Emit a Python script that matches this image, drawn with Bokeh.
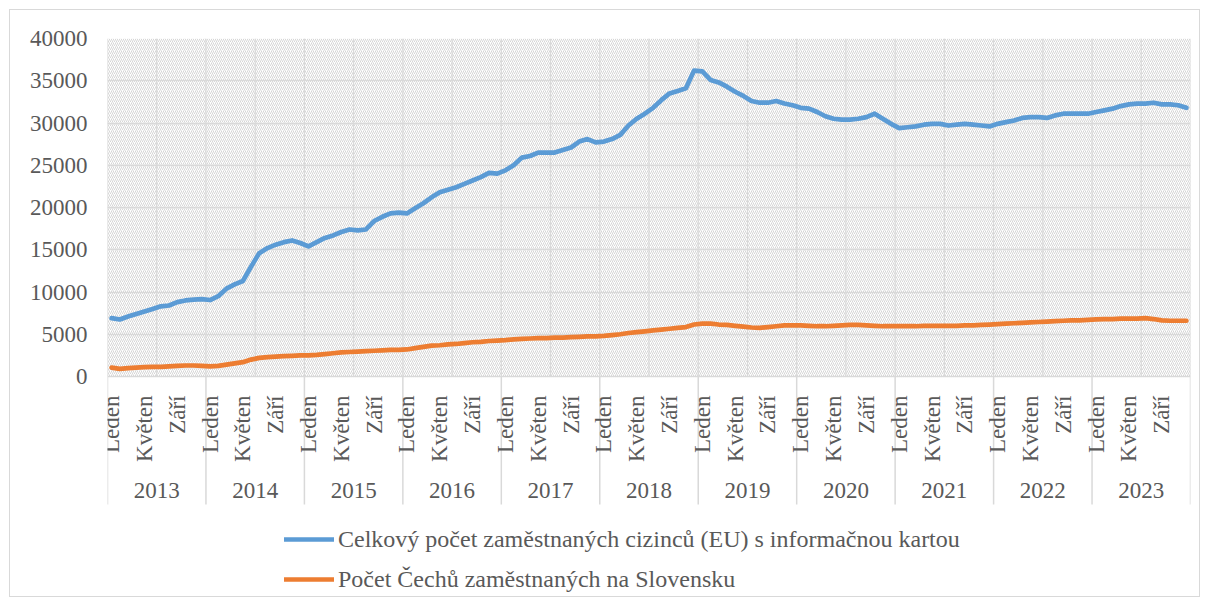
import numpy as np
from bokeh.plotting import figure
from bokeh.models import (Range1d, FixedTicker, Legend, LegendItem,
                          BoxAnnotation, NumeralTickFormatter, ColumnDataSource)
from bokeh.core.properties import value
from bokeh.embed import file_html
from bokeh.resources import INLINE

years = [str(y) for y in range(2013, 2024)]
month_names = {0: "Leden", 4: "Květen", 8: "Září"}

series_blue_name = "Celkový počet zaměstnaných cizinců (EU) s informačnou kartou"
series_orange_name = "Počet Čechů zaměstnaných na Slovensku"

blue = [
    6900, 6750, 7100, 7400, 7700, 8000, 8300, 8400, 8800, 9000, 9100, 9150,
    9050, 9500, 10400, 10900, 11300, 13000, 14600, 15200, 15600, 15900, 16100, 15800,
    15400, 15900, 16400, 16700, 17100, 17400, 17300, 17400, 18400, 18900, 19300, 19400,
    19300, 19900, 20500, 21200, 21800, 22100, 22400, 22800, 23200, 23600, 24100, 24000,
    24400, 25000, 25900, 26100, 26500, 26500, 26500, 26800, 27100, 27800, 28100, 27700,
    27800, 28100, 28600, 29700, 30500, 31100, 31800, 32700, 33500, 33800, 34100, 36200,
    36100, 35100, 34800, 34300, 33700, 33200, 32600, 32400, 32400, 32600, 32300, 32100,
    31800, 31700, 31300, 30800, 30500, 30400, 30400, 30500, 30700, 31100, 30500, 29900,
    29400, 29500, 29600, 29800, 29900, 29900, 29700, 29800, 29900, 29800, 29700, 29600,
    29900, 30100, 30300, 30600, 30700, 30700, 30600, 30900, 31100, 31100, 31100, 31100,
    31300, 31500, 31700, 32000, 32200, 32300, 32300, 32400, 32200, 32200, 32100, 31800,
]

orange = [
    1050, 900, 1000, 1050, 1100, 1150, 1150, 1200, 1250, 1300, 1300, 1250,
    1200, 1250, 1400, 1550, 1700, 2000, 2200, 2300, 2350, 2400, 2450, 2500,
    2500, 2550, 2650, 2750, 2850, 2900, 2950, 3000, 3050, 3100, 3150, 3150,
    3200, 3350, 3500, 3650, 3700, 3800, 3850, 3950, 4050, 4100, 4200, 4250,
    4300, 4400, 4450, 4500, 4550, 4550, 4600, 4600, 4650, 4700, 4750, 4750,
    4800, 4900, 5000, 5150, 5250, 5350, 5450, 5550, 5650, 5750, 5850, 6150,
    6250, 6250, 6150, 6100, 6000, 5900, 5800, 5750, 5850, 5950, 6050, 6050,
    6050, 6000, 5950, 5950, 6000, 6050, 6100, 6100, 6050, 6000, 5950, 5950,
    5950, 5950, 5950, 6000, 6000, 6000, 6000, 6000, 6050, 6050, 6100, 6150,
    6200, 6250, 6300, 6350, 6400, 6450, 6500, 6550, 6600, 6650, 6650, 6700,
    6750, 6800, 6800, 6850, 6850, 6850, 6900, 6800, 6650, 6600, 6600, 6600,
]

y_ticks = [0, 5000, 10000, 15000, 20000, 25000, 30000, 35000, 40000]

FONT = "Liberation Serif"
TXT = "#595959"
GRID = "#d9d9d9"

n = len(blue)
months = list(range(n))
src = ColumnDataSource(dict(x=months, blue=blue, orange=orange))

# ---- layout geometry (screen pixels inside the figure) ----
W, H = 1191, 588
LEFT, TOP, RIGHT = 97, 28, 11
PLOT_H = 338                       # height of the 0..40000 value area
FRAME_H = H - TOP                  # frame reaches the figure bottom
ymax = y_ticks[-1]
per_px = ymax / PLOT_H
ymin = -(FRAME_H - PLOT_H) * per_px


def y_at(px_below_zero):
    """data y for a point px pixels below the zero line"""
    return -px_below_zero * per_px


p = figure(width=W, height=H, output_backend="svg", toolbar_location=None,
           x_range=Range1d(-0.5, n - 0.5), y_range=Range1d(ymin, ymax),
           x_axis_location=None,
           min_border_left=LEFT, min_border_top=TOP, min_border_right=RIGHT,
           min_border_bottom=0)
p.outline_line_color = None
p.background_fill_color = "white"
p.xgrid.visible = False

# hatched plot area (value region only)
hatch = BoxAnnotation(bottom=0, top=ymax, fill_color="white", fill_alpha=1.0,
                      line_color=None, hatch_pattern="right_diagonal_line",
                      hatch_color="#d6d6d6", hatch_scale=4, hatch_weight=1,
                      level="image")
p.add_layout(hatch)

# y axis
p.yaxis.ticker = FixedTicker(ticks=y_ticks, minor_ticks=[])
p.yaxis.formatter = NumeralTickFormatter(format="0")
p.yaxis.axis_line_color = None
p.yaxis.major_tick_out = 0
p.yaxis.major_tick_in = 0
p.yaxis.minor_tick_out = 0
p.yaxis.minor_tick_in = 0
p.yaxis.major_label_standoff = 20
p.yaxis.major_label_text_font = FONT
p.yaxis.major_label_text_font_size = "23px"
p.yaxis.major_label_text_color = TXT

p.ygrid.ticker = FixedTicker(ticks=y_ticks)
p.ygrid.grid_line_color = GRID
p.ygrid.grid_line_width = 1.5

# vertical gridlines every half year, inside the value area
vx = [6 * k - 0.5 for k in range(n // 6 + 1)]
p.segment(x0=vx, x1=vx, y0=[0] * len(vx), y1=[ymax] * len(vx),
          line_color=GRID, line_width=1.2, level="underlay")

# year separators below the axis
sx = [12 * i - 0.5 for i in range(len(years) + 1)]
p.segment(x0=sx, x1=sx, y0=[0] * len(sx), y1=[y_at(128)] * len(sx),
          line_color=GRID, line_width=1.5)

# month labels (rotated)
mticks = [12 * i + m for i in range(len(years)) for m in (0, 4, 8)]
p.text(x=mticks, y=[y_at(19)] * len(mticks), text=[month_names[t % 12] for t in mticks],
       angle=np.pi / 2, text_align="right", text_baseline="middle",
       text_font=value(FONT), text_font_size="23px", text_color=TXT)

# year labels
yx = [12 * i + 5.5 for i in range(len(years))]
p.text(x=yx, y=[y_at(114)] * len(yx), text=years,
       text_align="center", text_baseline="middle",
       text_font=value(FONT), text_font_size="23px", text_color=TXT)

r1 = p.line("x", "blue", source=src, line_color="#5b9bd5", line_width=4.7,
            line_join="round", line_cap="round")
r2 = p.line("x", "orange", source=src, line_color="#ed7d31", line_width=4.7,
            line_join="round", line_cap="round")

legend = Legend(items=[LegendItem(label=series_blue_name, renderers=[r1]),
                       LegendItem(label=series_orange_name, renderers=[r2])],
                location=(177, 4), orientation="vertical",
                glyph_width=50, glyph_height=30, label_height=30, spacing=10,
                label_standoff=4, padding=0, margin=0,
                border_line_color=None, background_fill_alpha=0,
                label_text_font=FONT, label_text_font_size="24px",
                label_text_color=TXT)
p.add_layout(legend)

p.styles = {"border": "1.5px solid #d9d9d9", "margin-left": "9px", "margin-top": "9px"}

open("out.html", "w").write(file_html(p, INLINE))
